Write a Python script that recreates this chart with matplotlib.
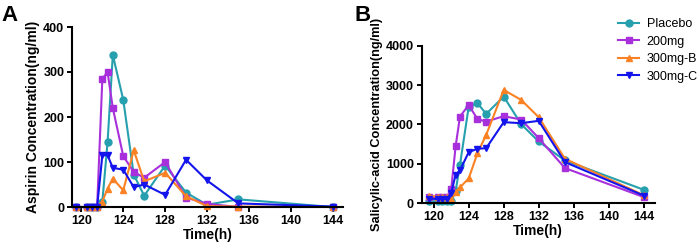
import matplotlib
matplotlib.use("Agg")
import matplotlib.pyplot as plt

plt.rcParams['font.family'] = ['Liberation Sans', 'DejaVu Sans']
plt.rcParams['font.weight'] = 'bold'

times = [119.5, 120.5, 121, 121.5, 122, 122.5, 123, 124, 125, 126, 128, 130, 132, 135, 144]
groups = ["Placebo", "200mg", "300mg-B", "300mg-C"]

aspirin_placebo = [0, 0, 0, 0, 12, 144, 338, 238, 72, 25, 92, 32, 5, 17, 0]
aspirin_200 = [0, 0, 0, 0, 285, 300, 220, 113, 78, 65, 100, 21, 7, 0, 0]
aspirin_300b = [0, 0, 0, 0, 12, 41, 63, 37, 126, 57, 76, 24, 2, 1, 0]
aspirin_300c = [0, 0, 0, 0, 115, 115, 87, 83, 44, 50, 27, 105, 59, 8, 1]

sal_placebo = [40, 40, 40, 40, 42, 300, 972, 2452, 2537, 2266, 2706, 2004, 1564, 1082, 338]
sal_200 = [160, 150, 150, 150, 356, 1438, 2199, 2494, 2131, 2072, 2207, 2123, 1649, 888, 152]
sal_300b = [180, 160, 160, 160, 100, 270, 397, 626, 1268, 1733, 2875, 2621, 2182, 1125, 200]
sal_300c = [110, 100, 100, 100, 254, 719, 829, 1294, 1378, 1395, 2055, 2030, 2089, 1040, 190]

x_ticks = [120, 124, 128, 132, 136, 140, 144]
a_yticks = [0, 100, 200, 300, 400]
b_yticks = [0, 1000, 2000, 3000, 4000]

colors = ["#26a0ae", "#a830dc", "#fb8224", "#1414ec"]
markers = ["o", "s", "^", "v"]

fig = plt.figure(figsize=(6.99, 2.49), dpi=100)
axA = fig.add_axes([72/699, 1-207/249, (343-72)/699, (207-27)/249])
axB = fig.add_axes([421.5/699, 1-203/249, (655-421.5)/699, (203-45.7)/249])

def style(ax, yticks, ylim, xlim, ylabel, ylsize):
    for s in ["top", "right"]:
        ax.spines[s].set_visible(False)
    for s in ["left", "bottom"]:
        ax.spines[s].set_linewidth(1.5)
    ax.set_xlim(*xlim)
    ax.set_ylim(*ylim)
    ax.set_xticks(x_ticks)
    ax.set_yticks(yticks)
    ax.tick_params(axis='both', direction='out', length=3.5, width=1.4, labelsize=9, pad=2)
    for lab in ax.get_xticklabels() + ax.get_yticklabels():
        lab.set_fontweight('bold')
    ax.set_xlabel("Time(h)", fontsize=10, fontweight='bold', labelpad=1)
    ax.set_ylabel(ylabel, fontsize=ylsize, fontweight='bold', labelpad=2)

series_a = [aspirin_placebo, aspirin_200, aspirin_300b, aspirin_300c]
series_b = [sal_placebo, sal_200, sal_300b, sal_300c]

for vals, c, m, g in zip(series_a, colors, markers, groups):
    axA.plot(times, vals, color=c, marker=m, markersize=5, linewidth=1.5, label=g, clip_on=False)
for vals, c, m, g in zip(series_b, colors, markers, groups):
    axB.plot(times, vals, color=c, marker=m, markersize=5, linewidth=1.5, label=g, clip_on=False)

style(axA, a_yticks, (0, 400), (119.1, 145), "Aspirin Concentration(ng/ml)", 10)
style(axB, b_yticks, (0, 4000), (118.6, 145.3), "Salicylic-acid Concentration(ng/ml)", 9.2)

fig.text(1/699, 1-5/249, "A", fontsize=16, fontweight='bold', va='top', ha='left')
fig.text(354/699, 1-5/249, "B", fontsize=16, fontweight='bold', va='top', ha='left')

leg = fig.legend(handles=axB.get_lines(), labels=groups, loc='upper left',
                 bbox_to_anchor=(618/699, 1-18/249), bbox_transform=fig.transFigure,
                 frameon=False, fontsize=9, handlelength=1.7, handletextpad=0.6,
                 labelspacing=0.45, borderpad=0, borderaxespad=0, markerscale=1.0)
for t in leg.get_texts():
    t.set_fontweight('normal')

fig.savefig("out.png", dpi=100)
